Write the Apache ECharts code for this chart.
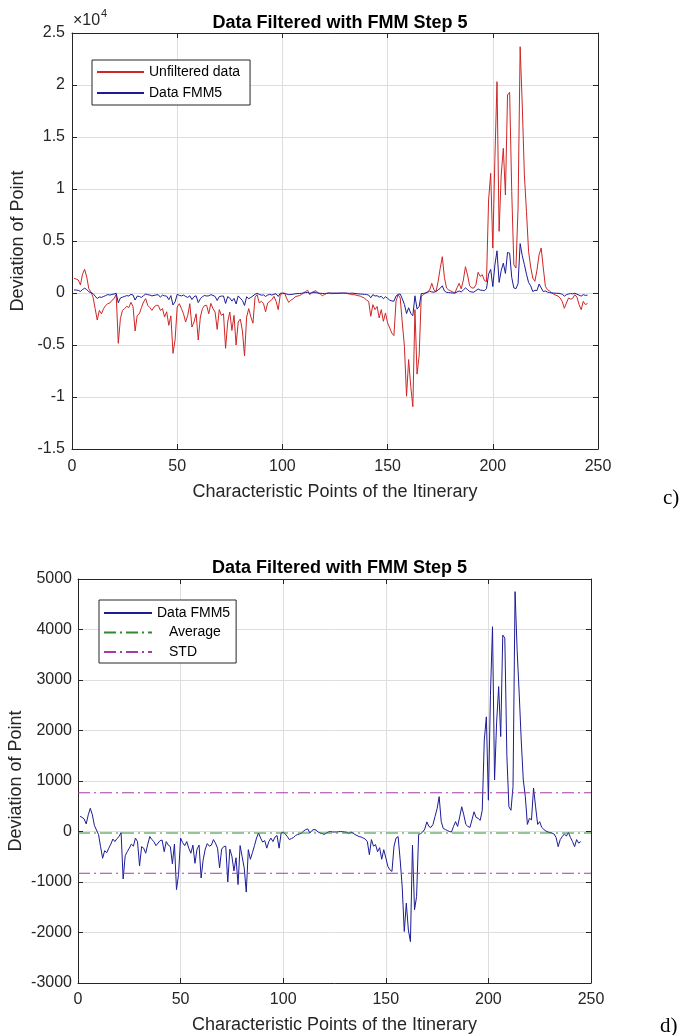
<!DOCTYPE html>
<html>
<head>
<meta charset="utf-8">
<title>Data Filtered with FMM Step 5</title>
<script src="https://cdn.jsdelivr.net/npm/echarts@6.0.0/dist/echarts.min.js"></script>
<style>
  html, body { margin: 0; padding: 0; background: #fff; }
  #chart { width: 683px; height: 1035px; }
</style>
</head>
<body>
<div id="chart"></div>
<script>
// deviation of each characteristic point (x = 1..245)
var unfiltered = [
  1410, 1330, 1250, 770, 1800, 2280, 1540, 400, 100, -400,          // 1
  -1500, -2600, -1670, -2000, -1500, -1200, -1030, -960, -700, -540, // 11
  -130, -4840, -2470, -1670, -1500, -1280, -1400, -900, -1300, -3650, // 21
  -2150, -2000, -1400, -860, -540, -1190, -1400, -1670, -1350, -1190, // 31
  -1190, -1670, -1500, -2310, -1800, -3110, -2200, -5800, -4500, -1350, // 41
  -1030, -1500, -2000, -2790, -2150, -1030, -3270, -2790, -2000, -4520, // 51
  -2310, -1500, -1200, -1190, -2000, -1000, -1500, -1830, -3500, -1600, // 61
  -2150, -2000, -5320, -2790, -1830, -3600, -2150, -5000, -2790, -2500, // 71
  -3650, -6060, -2310, -1500, -2300, -2900, -400, -160, -960, -800,   // 81
  -1000, -1800, -960, -800, -640, -320, -800, -1600, -160, -50,       // 91
  0, -500, -900, -700, -580, -380, -300, -260, -150, 0,              // 101
  150, 260, -160, 60, 150, 220, 0, -100, -260, -150,                 // 111
  -50, 0, -60, -60, -40, -50, -30, -30, -20, -30,                    // 121
  -60, -100, -160, -160, -200, -260, -300, -400, -480, -700,         // 131
  -800, -2240, -1120, -1600, -1300, -2400, -1600, -2720, -1920, -2880, // 141
  -3360, -3850, -4100, -800, -160, -480, -2880, -5130, -9930, -6400, // 151
  -8970, -10930, -1600, -7800, -6000, -300, -160, 0, 130, 300,       // 161
  930, 300, 130, 1090, 2370, 3490, 1500, 480, 300, 200,              // 171
  100, 0, 500, 930, 400, 1250, 2530, 1730, 700, 480,                 // 181
  480, 800, 1990, 1600, 1760, 1200, 1090, 8940, 11510, 4320,         // 191
  12950, 20320, 5930, 11350, 13910, 9420, 19040, 19290, 9740, 2720,  // 201
  2400, 8170, 23680, 18080, 11350, 7850, 4000, 2500, 1440, 1120,     // 211
  2200, 3680, 4320, 2400, 640, 320, 200, 0, -100, -220,              // 221
  -300, -480, -800, -1470, -960, -480, -600, -500, -160, -400,       // 231
  -1120, -1600, -800, -1120, -1000                                   // 241
];

var fmm5 = [
  300, 280, 250, 150, 330, 460, 330, 120, 30, -60,                   // 1
  -300, -530, -380, -420, -330, -250, -150, -200, -140, -100,        // 11
  -20, -940, -480, -400, -330, -250, -290, -130, -200, -680,         // 21
  -300, -330, -430, -250, -100, -160, -200, -280, -230, -180,        // 31
  -170, -400, -200, -270, -300, -640, -250, -1150, -850, -130,       // 41
  -220, -280, -200, -330, -430, -270, -630, -350, -270, -920,        // 51
  -560, -350, -240, -290, -270, -160, -230, -330, -720, -350,        // 61
  -300, -290, -1000, -350, -490, -780, -520, -1050, -280, -500,      // 71
  -720, -1200, -360, -550, -420, -280, -130, -30, -130, -210,        // 81
  -180, -330, -200, -130, -200, -110, -80, -330, -30, -10,           // 91
  -50, -100, -160, -140, -120, -80, -60, -50, -30, 10,               // 101
  40, 50, -30, 20, 40, 30, -10, -30, -40, -60,                       // 111
  -30, -10, 0, -10, -10, -10, -5, 0, -5, -10,                        // 121
  -15, -40, -10, -30, -60, -80, -100, -110, -130, -150,              // 131
  -200, -460, -160, -290, -260, -400, -320, -550, -360, -520,        // 141
  -690, -760, -790, -290, -130, -100, -560, -1100, -1980, -1420,     // 151
  -1950, -2180, -270, -1550, -1290, -60, -40, -10, 50, 190,          // 161
  100, 80, 140, 300, 450, 690, 200, 60, 40, 20,                      // 171
  0, -10, 100, 195, 100, 290, 490, 330, 140, 100,                    // 181
  80, 230, 390, 280, 260, 220, 420, 1810, 2270, 620,                 // 191
  2700, 4055, 1020, 2150, 2870, 1880, 3890, 3830, 1500, 490,         // 201
  420, 890, 4750, 3590, 2740, 1810, 1020, 690, 140, 260,             // 211
  230, 860, 490, 140, 195, 80, 40, 10, -10, -20,                     // 221
  -30, -50, -120, -300, -160, -100, -50, -90, -20, -120,             // 231
  -200, -300, -160, -230, -200                                       // 241
];

var avgValue = -30;
var stdUpper = 767;
var stdLower = -827;

var xRange = [0, 250, 50];            // min, max, interval
var topYRange = [-15000, 25000, 5000];
var bottomYRange = [-3000, 5000, 1000];

var font = '"Liberation Sans", Arial, Helvetica, sans-serif';
var axisColor = '#262626';
var gridColor = '#dedede';
var red = '#cf2626';
var blue = '#1c1c96';
var green = '#2f8a2f';
var magenta = '#a83aa8';
var dashDot = [12, 4, 2, 4];

function toPairs(values) {
  return values.map(function (v, i) { return [i + 1, v]; });
}

function flat(value) {
  return [[xRange[0], value], [xRange[1], value]];
}

var boxLine = { show: true, onZero: false, lineStyle: { color: axisColor, width: 1 } };
var innerTick = { show: true, inside: true, length: 5, lineStyle: { color: axisColor, width: 1 } };

function xAxes(g, labelMargin, nameGap) {
  return [{
    gridIndex: g, type: 'value', position: 'bottom',
    min: xRange[0], max: xRange[1], interval: xRange[2],
    axisLine: boxLine, axisTick: innerTick,
    axisLabel: { color: axisColor, fontSize: 16, fontFamily: font, margin: labelMargin },
    splitLine: { show: true, lineStyle: { color: gridColor, width: 1 } },
    name: 'Characteristic Points of the Itinerary',
    nameLocation: 'middle', nameGap: nameGap, nameMoveOverlap: false,
    nameTextStyle: { color: axisColor, fontSize: 18, fontFamily: font }
  }, {
    gridIndex: g, type: 'value', position: 'top',
    min: xRange[0], max: xRange[1], interval: xRange[2],
    axisLine: boxLine, axisTick: innerTick,
    axisLabel: { show: false }, splitLine: { show: false }
  }];
}

function yAxes(g, range, labelMargin, nameGap, formatter) {
  return [{
    gridIndex: g, type: 'value', position: 'left',
    min: range[0], max: range[1], interval: range[2],
    axisLine: boxLine, axisTick: innerTick,
    axisLabel: { color: axisColor, fontSize: 16, fontFamily: font, margin: labelMargin, formatter: formatter },
    splitLine: { show: true, lineStyle: { color: gridColor, width: 1 } },
    name: 'Deviation of Point', nameLocation: 'middle', nameGap: nameGap, nameRotate: 90,
    nameMoveOverlap: false,
    nameTextStyle: { color: axisColor, fontSize: 18, fontFamily: font }
  }, {
    gridIndex: g, type: 'value', position: 'right',
    min: range[0], max: range[1], interval: range[2],
    axisLine: boxLine, axisTick: innerTick,
    axisLabel: { show: false }, splitLine: { show: false }
  }];
}

function lineSeries(name, data, xi, yi, color, type) {
  return {
    name: name, type: 'line', data: data,
    xAxisIndex: xi, yAxisIndex: yi,
    symbol: 'none', showSymbol: false, silent: true,
    lineStyle: { color: color, width: 1, type: type || 'solid' },
    itemStyle: { color: color }
  };
}

var titleStyle = { fontSize: 18, fontWeight: 'bold', color: '#000', fontFamily: font };
var legendText = { fontSize: 14, color: '#000', fontFamily: font };

var chart = echarts.init(document.getElementById('chart'));
chart.setOption({
  animation: false,
  backgroundColor: '#fff',
  title: [
    { text: 'Data Filtered with FMM Step 5', left: 335, top: 9, textAlign: 'center', textStyle: titleStyle },
    { text: 'Data Filtered with FMM Step 5', left: 334.5, top: 554, textAlign: 'center', textStyle: titleStyle }
  ],
  grid: [
    { left: 72, top: 33, width: 526, height: 416, containLabel: false, outerBoundsMode: 'none' },
    { left: 78, top: 579, width: 513, height: 404, containLabel: false, outerBoundsMode: 'none' }
  ],
  xAxis: xAxes(0, 10, 34).concat(xAxes(1, 9, 33)),
  yAxis: yAxes(0, topYRange, 7, 45, function (v) { return String(v / 10000); })
    .concat(yAxes(1, bottomYRange, 6, 53, function (v) { return String(v); })),
  legend: [{
    data: ['Unfiltered data', 'Data FMM5'],
    orient: 'vertical', left: 92, top: 60,
    itemWidth: 47, itemHeight: 14, itemGap: 7,
    padding: [5, 10, 5, 4],
    borderColor: axisColor, borderWidth: 1, backgroundColor: '#fff',
    itemStyle: { opacity: 0 },
    textStyle: legendText, selectedMode: false
  }, {
    data: ['Data FMM5', 'Average', 'STD'],
    orient: 'vertical', left: 99, top: 600,
    itemWidth: 48, itemHeight: 14, itemGap: 5.5,
    padding: [6, 6, 4, 4],
    borderColor: axisColor, borderWidth: 1, backgroundColor: '#fff',
    itemStyle: { opacity: 0 },
    formatter: function (name) { return name === 'Data FMM5' ? name : '{ind|' + name + '}'; },
    textStyle: {
      fontSize: 14, color: '#000', fontFamily: font,
      rich: { ind: { padding: [0, 0, 0, 12], fontSize: 14, color: '#000', fontFamily: font } }
    },
    selectedMode: false
  }],
  graphic: [
    { type: 'text', left: 73, top: 13, style: { text: '×10', fill: axisColor, font: '16px "Liberation Sans", Arial, sans-serif' } },
    { type: 'text', left: 101, top: 8, style: { text: '4', fill: axisColor, font: '11px "Liberation Sans", Arial, sans-serif' } },
    { type: 'text', left: 663, top: 488, style: { text: 'c)', fill: '#000', font: '21px "Liberation Serif", "Times New Roman", serif' } },
    { type: 'text', left: 660, top: 1016, style: { text: 'd)', fill: '#000', font: '21px "Liberation Serif", "Times New Roman", serif' } }
  ],
  series: [
    lineSeries('Unfiltered data', toPairs(unfiltered), 0, 0, red),
    lineSeries('Data FMM5', toPairs(fmm5), 0, 0, blue),
    lineSeries('Data FMM5', toPairs(fmm5), 2, 2, blue),
    lineSeries('Average', flat(avgValue), 2, 2, green, dashDot),
    lineSeries('STD', flat(stdUpper), 2, 2, magenta, dashDot),
    lineSeries('STD', flat(stdLower), 2, 2, magenta, dashDot)
  ]
});
</script>
</body>
</html>
